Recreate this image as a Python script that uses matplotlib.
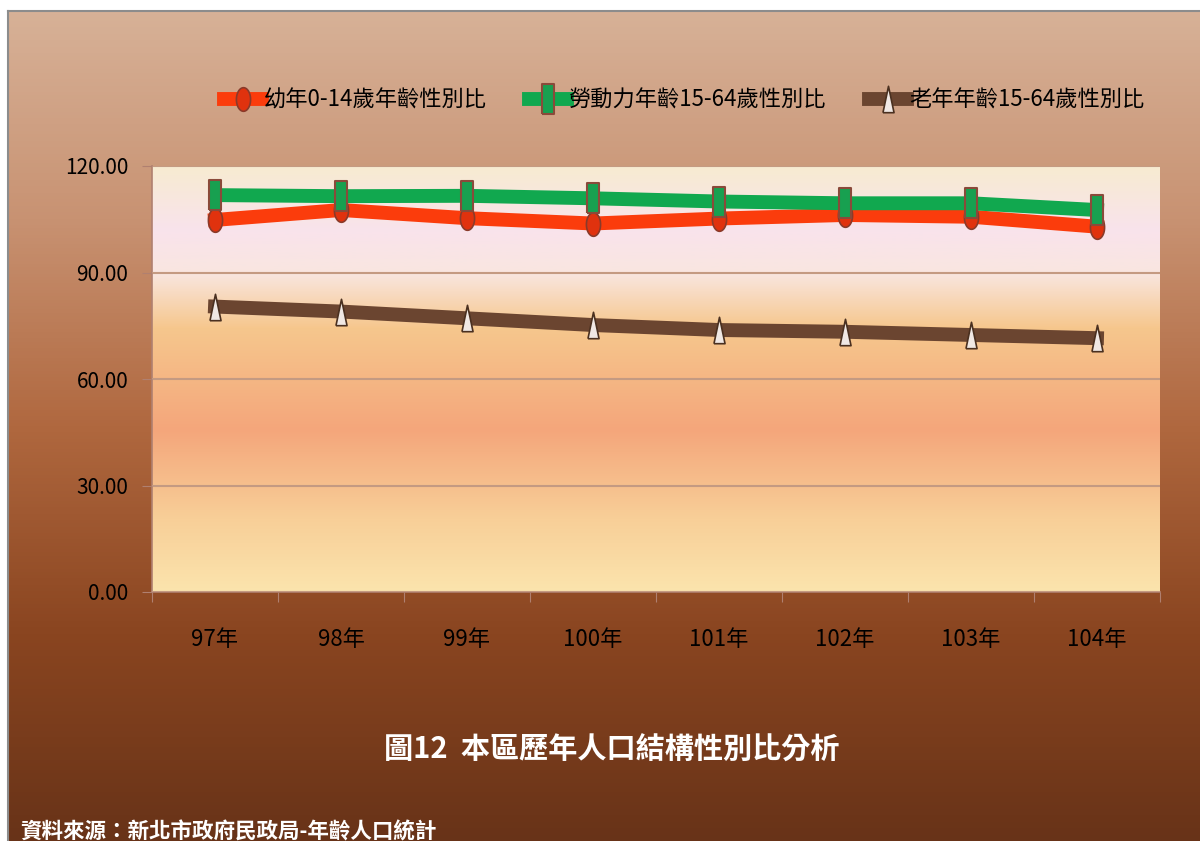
import numpy as np
import matplotlib.pyplot as plt
from matplotlib.colors import LinearSegmentedColormap

# 資料
years = ['97年', '98年', '99年', '100年', '101年', '102年', '103年', '104年']
child_ratio = [104.8, 107.6, 105.3, 103.8, 105.2, 106.2, 105.7, 102.9]
labor_ratio = [111.8, 111.5, 111.6, 110.9, 110.0, 109.5, 109.5, 107.6]
elder_ratio = [80.4, 79.0, 77.1, 75.2, 73.8, 73.3, 72.4, 71.5]
series_names = ['幼年0-14歲年齡性別比', '勞動力年齡15-64歲性別比', '老年年齡15-64歲性別比']
yticks = [0, 30, 60, 90, 120]

fonts = ['Noto Sans CJK TC', 'DejaVu Sans']
plt.rcParams['font.family'] = fonts

# 細長的標記形狀
t = np.linspace(0, 2 * np.pi, 60)
ellipse = np.c_[0.6 * np.cos(t), np.sin(t)]
tall_rect = [(-0.42, -1), (0.42, -1), (0.42, 1), (-0.42, 1), (-0.42, -1)]
tall_tri = [(-0.42, -1), (0.42, -1), (0, 1), (-0.42, -1)]

fig = plt.figure(figsize=(12, 8.41), dpi=100)
fig.patch.set_facecolor('white')

# 外框背景漸層
bg = fig.add_axes([8 / 1200, 0, 1 - 8 / 1200, 1 - 11 / 841])
bg_cmap = LinearSegmentedColormap.from_list('bg', [
    (0.0, '#683318'), (0.25, '#8a4520'), (0.5, '#b0683f'),
    (0.75, '#c89272'), (1.0, '#d7b197')])
bg.imshow(np.linspace(0, 1, 256).reshape(-1, 1), cmap=bg_cmap, aspect='auto',
          origin='lower', extent=[0, 1, 0, 1])
bg.set_xlim(0, 1)
bg.set_ylim(0, 1)
bg.set_xticks([])
bg.set_yticks([])
for s in bg.spines.values():
    s.set_color('#8c8c8c')
    s.set_linewidth(1.5)
bg.spines['right'].set_visible(False)
bg.spines['bottom'].set_visible(False)

# 繪圖區
ax = fig.add_axes([152 / 1200, 1 - 592 / 841, 1008 / 1200, 426 / 841])
pa_cmap = LinearSegmentedColormap.from_list('pa', [
    (0.0, '#fbe4ad'), (0.17, '#f8cf98'), (0.38, '#f4a67b'),
    (0.62, '#f6c78d'), (0.75, '#f9e6e0'), (0.85, '#f9e3ec'), (1.0, '#f7ebd1')])
ax.imshow(np.linspace(0, 1, 256).reshape(-1, 1), cmap=pa_cmap, aspect='auto',
          origin='lower', extent=[-0.5, 7.5, 0, 120], zorder=0)

x = np.arange(len(years))
ax.plot(x, child_ratio, color='#fb3c0c', lw=10,
        marker=ellipse, ms=17, mfc='#e0320e', mec='#8a3a2a', mew=1.2,
        label=series_names[0], zorder=3)
ax.plot(x, labor_ratio, color='#11a84f', lw=10,
        marker=tall_rect, ms=21, mfc='#18a050', mec='#8a4a3a', mew=1.5,
        label=series_names[1], zorder=3)
ax.plot(x, elder_ratio, color='#6b4530', lw=10,
        marker=tall_tri, ms=19, mfc='#f0e8e4', mec='#4a3020', mew=1.2,
        label=series_names[2], zorder=3)

ax.set_xlim(-0.5, 7.5)
ax.set_ylim(0, 120)
ax.set_yticks(yticks)
ax.set_yticklabels([f'{v:.2f}' for v in yticks], fontsize=15)
ax.yaxis.grid(True, color='#c49a82', lw=1.5)
ax.set_axisbelow(False)
ax.set_xticks(np.arange(-0.5, 8, 1))
ax.set_xticklabels([])
ax.set_xticks(x, minor=True)
ax.set_xticklabels(years, minor=True, fontsize=16)
ax.tick_params(axis='x', which='minor', length=0, pad=26)
ax.tick_params(axis='x', which='major', length=7, color='#b08070')
ax.tick_params(axis='y', length=7, color='#b08070', pad=10)
for s in ['top', 'right']:
    ax.spines[s].set_visible(False)
for s in ['left', 'bottom']:
    ax.spines[s].set_color('#b08070')
    ax.spines[s].set_linewidth(1.2)

leg = fig.legend(loc='center', bbox_to_anchor=(0.57, 1 - 100 / 841), ncol=3,
                 frameon=False, fontsize=16, handlelength=1.7,
                 handletextpad=0.1, columnspacing=1.9)

fig.text(0.51, 1 - 750 / 841, '圖12  本區歷年人口結構性別比分析', color='white',
         fontsize=21, fontweight='bold', ha='center', va='center')
fig.text(20 / 1200, 1 - 832 / 841, '資料來源：新北市政府民政局-年齡人口統計', color='white',
         fontsize=15.5, fontweight='bold', ha='left', va='center')

fig.savefig('out.png', dpi=100, facecolor=fig.get_facecolor())
